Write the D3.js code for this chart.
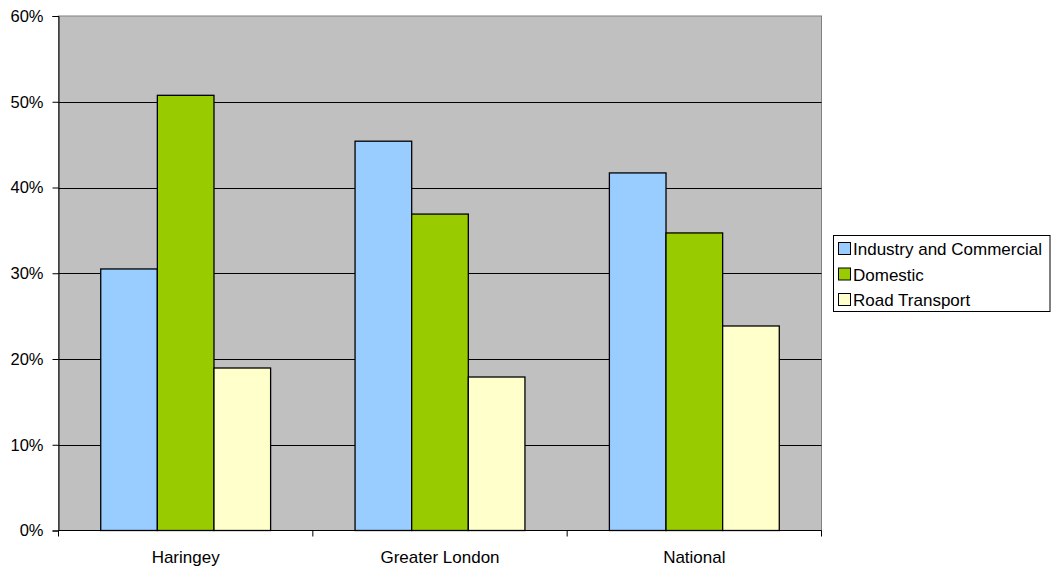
<!DOCTYPE html>
<html>
<head>
<meta charset="utf-8">
<script src="https://cdn.jsdelivr.net/npm/d3@7"></script>
<style>
body { margin: 0; background: #fff; }
text { font-family: "Liberation Sans", Arial, sans-serif; }
</style>
</head>
<body>
<script>
var categories = ["Haringey", "Greater London", "National"];
var seriesNames = ["Industry and Commercial", "Domestic", "Road Transport"];
var industry = [30.5, 45.4, 41.7];
var domestic = [50.75, 36.9, 34.7];
var road = [18.95, 17.9, 23.85];
var yTicks = [0, 10, 20, 30, 40, 50, 60];
var colors = ["#99ccff", "#99cc00", "#ffffcc"];

var w = 1051, h = 570;
var plotLeft = 58.5, plotRight = 821.5, plotTop = 16, plotBottom = 530.5;

var svg = d3.select("body").append("svg").attr("width", w).attr("height", h);

var x0 = d3.scaleBand().domain(categories).range([plotLeft, plotRight]).paddingInner(0.332).paddingOuter(0.166);
var x1 = d3.scaleBand().domain(seriesNames).range([0, x0.bandwidth()]);
var y = d3.scaleLinear().domain([0, 60]).range([plotBottom, plotTop]);

svg.append("rect")
    .attr("x", plotLeft).attr("y", plotTop)
    .attr("width", plotRight - plotLeft).attr("height", plotBottom - plotTop)
    .attr("fill", "#c0c0c0").attr("stroke", "#808080").attr("stroke-width", 1);

svg.selectAll("line.grid")
    .data(yTicks.slice(1, -1))
    .enter().append("line")
    .attr("class", "grid")
    .attr("x1", plotLeft).attr("x2", plotRight)
    .attr("y1", function(d) { return Math.round(y(d)) + 0.5; })
    .attr("y2", function(d) { return Math.round(y(d)) + 0.5; })
    .attr("stroke", "#000").attr("stroke-width", 1);

var rows = categories.map(function(c, i) {
    return [industry[i], domestic[i], road[i]].map(function(v, j) {
        return {cat: c, name: seriesNames[j], value: v, color: colors[j]};
    });
});

svg.append("g").selectAll("g")
    .data(rows).enter().append("g")
    .selectAll("rect")
    .data(function(d) { return d; })
    .enter().append("rect")
    .attr("x", function(d) { return x0(d.cat) + x1(d.name); })
    .attr("y", function(d) { return y(d.value); })
    .attr("width", x1.bandwidth())
    .attr("height", function(d) { return plotBottom - y(d.value); })
    .attr("fill", function(d) { return d.color; })
    .attr("stroke", "#000").attr("stroke-width", 1.3);

var yAxis = d3.axisLeft(y).tickValues(yTicks).tickSize(6).tickPadding(9)
    .tickFormat(function(d) { return d + "%"; });
svg.append("g")
    .attr("transform", "translate(" + plotLeft + ",0)")
    .call(yAxis)
    .call(function(g) {
        g.select(".domain").attr("stroke", "#000");
        g.selectAll("text").attr("font-size", 16.5).attr("fill", "#000")
            .style("font-family", "Liberation Sans, Arial, sans-serif");
    });

var xEdges = d3.scaleLinear().domain([0, categories.length]).range([plotLeft, plotRight]);
var xg = svg.append("g");
xg.append("line").attr("x1", plotLeft).attr("x2", plotRight).attr("y1", plotBottom).attr("y2", plotBottom).attr("stroke", "#000");
xg.selectAll("line.tk").data(d3.range(categories.length + 1)).enter().append("line")
    .attr("class", "tk")
    .attr("x1", function(d) { return xEdges(d); }).attr("x2", function(d) { return xEdges(d); })
    .attr("y1", plotBottom).attr("y2", plotBottom + 6).attr("stroke", "#000");
xg.selectAll("text").data(categories).enter().append("text")
    .attr("x", function(d) { return x0(d) + x0.bandwidth() / 2; })
    .attr("y", 563)
    .attr("text-anchor", "middle")
    .attr("font-size", 17)
    .text(function(d) { return d; });

var legend = svg.append("g");
legend.append("rect")
    .attr("x", 833.5).attr("y", 235.5).attr("width", 216.5).attr("height", 76)
    .attr("fill", "#fff").attr("stroke", "#000");
var items = legend.selectAll("g.item").data(seriesNames).enter().append("g")
    .attr("class", "item")
    .attr("transform", function(d, i) { return "translate(838," + (242 + i * 25.5) + ")"; });
items.append("rect")
    .attr("x", 0.5).attr("y", 0.5).attr("width", 12).attr("height", 12)
    .attr("fill", function(d, i) { return colors[i]; })
    .attr("stroke", "#000");
items.append("text")
    .attr("x", 15).attr("y", 13)
    .attr("font-size", 17)
    .text(function(d) { return d; });
</script>
</body>
</html>
